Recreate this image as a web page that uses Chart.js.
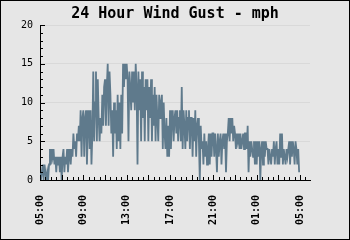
<!DOCTYPE html>
<html>
<head>
<meta charset="utf-8">
<script src="https://cdn.jsdelivr.net/npm/chart.js@4"></script>
<style>
  body { margin: 0; background: #e6e6e6; }
  canvas { display: block; }
</style>
</head>
<body>
<canvas id="gustChart" width="350" height="240"></canvas>
<script>
// wind gust readings, 5 minute samples, one row per hour starting 05:00
const startHour = 5;
const stepMinutes = 5;
const gusts = [
  1,0,1,2,0,2,1,0,1,0,2,4,
  2,4,3,4,2,3,1,3,2,3,1,3,
  0,3,4,1,3,2,4,1,3,4,2,4,
  3,6,4,5,3,6,5,7,5,9,3,8,
  9,3,8,9,2,7,9,4,9,2,6,14,
  5,10,14,5,13,8,5,8,6,11,7,12,
  13,7,12,15,7,14,11,6,9,3,10,6,
  9,4,11,5,10,4,11,6,15,12,15,13,
  15,13,5,14,12,9,14,10,14,9,15,12,
  2,14,9,13,5,14,8,12,5,13,9,13,
  5,12,8,13,5,11,7,12,5,11,8,5,
  11,8,10,11,4,10,6,4,8,3,7,3,
  9,4,8,9,5,8,9,6,9,5,8,9,
  5,12,4,9,7,4,9,5,8,9,4,8,
  8,3,8,5,9,3,7,8,5,0,7,4,
  5,2,6,3,5,2,4,6,2,6,3,6,
  6,3,6,4,1,6,3,5,6,2,5,6,
  4,6,1,5,6,8,5,8,6,8,5,7,
  6,4,6,5,6,4,6,4,5,6,4,6,
  6,4,7,1,5,3,5,4,3,5,2,5,
  2,5,3,5,0,4,5,2,5,3,5,4,
  4,2,4,3,2,4,3,5,2,4,5,2,
  4,2,6,3,6,2,4,3,2,4,3,4,
  5,2,5,3,5,4,2,5,4,2,4,1
];
const yTicks = [0, 5, 10, 15, 20];
const xLabelHours = [0, 4, 8, 12, 16, 20, 24];

const points = gusts.map((v, i) => ({ x: i * stepMinutes / 60, y: v }));

function hourLabel(h) {
  const hh = (startHour + h) % 24;
  return String(hh).padStart(2, "0") + ":00";
}

// fundo cinza, marcas dos eixos e moldura
const frame = {
  id: "frame",
  beforeDraw(chart) {
    const ctx = chart.ctx;
    ctx.save();
    ctx.fillStyle = "#e6e6e6";
    ctx.fillRect(0, 0, chart.width, chart.height);
    ctx.restore();
  },
  afterDraw(chart) {
    const ctx = chart.ctx;
    const xs = chart.scales.x;
    const ys = chart.scales.y;
    const left = chart.chartArea.left;
    const bottom = chart.chartArea.bottom;
    ctx.save();
    ctx.strokeStyle = "#000";
    ctx.lineWidth = 1;
    ctx.beginPath();
    for (let v = 0; v <= 20; v++) {
      const y = Math.round(ys.getPixelForValue(v)) + 0.5;
      const len = v % 5 === 0 ? 5 : 3;
      ctx.moveTo(left, y);
      ctx.lineTo(left + len, y);
    }
    for (let h = 0; h <= xs.max; h += 0.5) {
      const x = Math.round(xs.getPixelForValue(h)) + 0.5;
      const len = h % 2 === 0 ? 5 : 3;
      ctx.moveTo(x, bottom);
      ctx.lineTo(x, bottom - len);
    }
    ctx.stroke();
    ctx.strokeRect(0.5, 0.5, chart.width - 1, chart.height - 1);
    ctx.restore();
  }
};

const ctx = document.getElementById("gustChart").getContext("2d");
new Chart(ctx, {
  type: "line",
  data: {
    datasets: [{
      data: points,
      borderColor: "#5f7a8c",
      borderWidth: 1.8,
      pointRadius: 0,
      fill: false,
      tension: 0
    }]
  },
  options: {
    responsive: false,
    animation: false,
    layout: { padding: 0 },
    plugins: {
      legend: { display: false },
      tooltip: { enabled: false },
      title: {
        display: true,
        text: "24 Hour Wind Gust - mph",
        color: "#000",
        font: { family: "DejaVu Sans Mono", size: 15, weight: "bold" },
        padding: { top: 5, bottom: 2 }
      }
    },
    scales: {
      x: {
        type: "linear",
        min: 0,
        max: 24.92,
        afterFit: s => { s.height = 60; },
        afterBuildTicks: s => { s.ticks = xLabelHours.map(v => ({ value: v })); },
        grid: { display: false },
        border: { display: true, color: "#000", width: 1 },
        ticks: {
          color: "#000",
          font: { family: "DejaVu Sans Mono", size: 10, weight: "bold" },
          minRotation: 90,
          maxRotation: 90,
          padding: 7,
          autoSkip: false,
          callback: v => hourLabel(v)
        }
      },
      y: {
        min: 0,
        max: 20,
        afterFit: s => { s.width = 40; },
        afterBuildTicks: s => { s.ticks = yTicks.map(v => ({ value: v })); },
        grid: { color: "#d9d9d9", drawTicks: false },
        border: { display: true, color: "#000", width: 1 },
        ticks: {
          color: "#000",
          font: { family: "DejaVu Sans Mono", size: 10 },
          padding: 7
        }
      },
      // espaço vazio à direita
      right: {
        position: "right",
        display: true,
        afterFit: s => { s.width = 40; },
        grid: { display: false },
        border: { display: false },
        ticks: { display: false }
      }
    }
  },
  plugins: [frame]
});
</script>
</body>
</html>
